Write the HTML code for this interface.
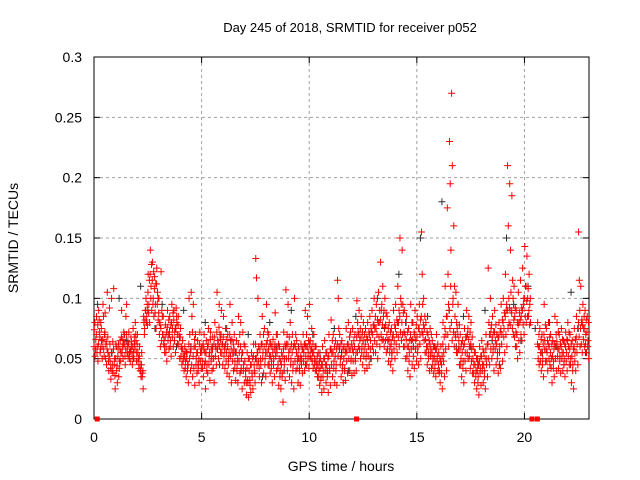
<!DOCTYPE html>
<html><head><meta charset="utf-8"><style>
html,body{margin:0;padding:0;background:#fff}
svg{display:block;font-family:"Liberation Sans",sans-serif}
</style></head><body>
<svg id="chart" width="640" height="480" viewBox="0 0 640 480">
<rect width="640" height="480" fill="#fff"/>
<text x="350" y="32" text-anchor="middle" font-size="13" fill="#000">Day 245 of 2018, SRMTID for receiver p052</text>
<text transform="translate(18,238) rotate(-90)" text-anchor="middle" font-size="14" fill="#000">SRMTID / TECUs</text>
<text x="341" y="471" text-anchor="middle" font-size="14" fill="#000">GPS time / hours</text>
<g id="grid"></g>
<g id="axes"></g>
<g id="black"></g>
<g id="red"></g>
</svg>
<script>
const xTicks = [0,5,10,15,20];
const yTicks = [0,0.05,0.1,0.15,0.2,0.25,0.3];
const yTickLabels = ["0","0.05","0.1","0.15","0.2","0.25","0.3"];
const binWidthHours = 0.1;
// red series: milli-TECU values per 0.1 h bin
const redBins = [
[74,52,66],[85,60,48],[90,72,55],[80,65,50],[95,58,70],[88,62,45],[105,55,40],[92,48,33],[100,45,38],[108,50,25],
[62,40,30],[58,35,48],[65,55,90],[60,50,72],[70,45,85],[95,60,52],[72,55,48],[68,60,45],[75,50,62],[80,65,55],
[70,48,42],[60,40,35],[55,38,25],[80,75,90],[100,85,78],[120,95,80],[140,110,90],[130,100,85],[118,95,75],[125,105,82],
[100,80,60],[122,90,70],[85,65,55],[78,60,48],[90,70,58],[85,65,52],[95,75,60],[90,72,55],[92,80,62],[85,70,50],
[75,60,45],[65,50,40],[60,48,35],[55,45,30],[100,70,40],[105,85,35],[95,60,28],[70,50,38],[65,45,30],[72,55,42],
[60,48,35],[70,55,25],[65,45,38],[75,52,32],[72,58,40],[68,50,30],[80,60,45],[105,65,50],[95,70,55],[90,62,45],
[85,60,42],[75,55,38],[70,50,35],[95,65,30],[80,55,40],[70,48,32],[65,45,30],[85,55,38],[80,50,25],[72,45,30],
[60,35,20],[55,30,18],[50,28,22],[55,35,25],[62,40,30],[133,117,55],[100,60,35],[70,45,30],[85,55,38],[75,50,35],
[95,65,45],[70,52,38],[62,48,30],[66,50,35],[88,58,40],[70,45,28],[60,40,25],[55,38,14],[72,50,32],[107,62,40],
[95,55,35],[80,50,30],[70,45,25],[100,60,40],[65,48,30],[58,42,28],[62,50,38],[70,55,40],[90,60,45],[85,55,42],
[95,65,50],[75,55,42],[70,50,40],[60,45,35],[55,40,28],[50,35,22],[60,40,25],[65,45,30],[55,38,22],[70,42,28],
[82,55,35],[70,48,30],[65,45,28],[115,100,60],[70,50,35],[65,45,30],[60,42,32],[75,55,38],[80,58,40],[72,50,36],
[75,55,38],[70,50,40],[98,80,60],[90,65,50],[85,60,45],[80,58,40],[75,55,42],[80,60,45],[85,65,50],[90,70,55],
[100,75,55],[95,70,50],[105,80,60],[130,90,65],[110,85,60],[100,78,55],[85,65,48],[80,60,45],[75,55,40],[90,65,50],
[95,70,55],[110,80,60],[150,100,65],[140,95,60],[90,70,50],[85,60,40],[75,55,35],[95,65,45],[80,60,42],[90,65,48],
[85,60,45],[95,70,50],[155,120,70],[100,75,55],[80,60,45],[70,55,40],[75,58,42],[65,50,38],[60,48,35],[70,52,40],
[55,40,30],[60,45,25],[80,55,35],[110,70,40],[175,120,60],[230,195,140],[270,210,100],[160,110,70],[105,80,55],[95,65,45],
[70,50,35],[65,48,30],[75,55,40],[90,70,50],[85,60,42],[80,58,38],[60,45,30],[55,40,25],[50,35,20],[60,42,28],
[65,45,30],[55,40,25],[70,50,35],[125,80,45],[100,75,50],[85,60,40],[90,65,45],[70,55,38],[80,60,42],[95,70,48],
[100,75,55],[120,90,60],[210,160,80],[195,140,90],[185,115,70],[110,85,60],[90,70,50],[105,80,55],[115,85,65],[125,95,70],
[143,110,80],[135,100,85],[120,95,80],[],[],[],[80,60,45],[75,55,40],[70,50,35],[95,65,48],
[75,55,40],[80,60,45],[70,50,30],[65,48,35],[85,60,40],[80,58,42],[70,52,38],[75,55,40],[65,50,35],[72,55,40],
[80,60,45],[70,50,30],[65,45,25],[75,55,40],[85,62,45],[155,115,60],[110,80,55],[95,75,60],[90,70,55],[85,65,50]
];
// additional red readings per 0.1 h bin (mid-band)
const redBinsExtra = [
[60,80,58],[70,55,78],[62,82,68],[58,75,60],[66,85,52],[72,50,64],[58,68,48],[52,62,42],[55,40,64],[58,45,36],
[50,60,44],[52,62,42],[58,48,68],[55,66,62],[62,52,58],[70,55,64],[62,50,58],[56,64,52],[60,55,68],[58,70,48],
[62,55,50],[52,45,40],[45,35,40],[85,70,82],[90,80,95],[105,88,115],[120,100,128],[115,95,122],[108,88,112],[112,95,100],
[88,70,78],[75,65,85],[70,62,60],[68,55,72],[76,65,82],[72,60,78],[80,68,88],[82,65,75],[75,85,70],[78,62,68],
[68,52,58],[58,48,54],[52,42,56],[50,40,45],[62,50,55],[58,45,72],[52,42,66],[60,45,55],[55,40,50],[62,48,58],
[55,42,62],[58,45,48],[55,40,60],[62,45,55],[66,48,52],[58,42,62],[68,52,58],[72,58,62],[76,60,66],[70,55,62],
[68,52,58],[62,48,66],[60,45,55],[70,52,58],[66,48,62],[58,42,55],[55,40,50],[62,48,70],[60,42,55],[55,40,62],
[48,40,30],[42,32,50],[40,32,45],[45,38,50],[52,45,38],[62,50,45],[55,48,42],[58,50,62],[62,50,70],[60,45,55],
[62,55,72],[58,45,62],[52,42,60],[55,45,58],[62,52,70],[55,42,62],[50,35,48],[45,35,52],[58,45,62],[60,50,70],
[62,50,68],[58,45,62],[55,40,60],[62,48,70],[55,42,52],[50,40,48],[52,45,58],[58,48,62],[62,52,70],[60,50,65],
[62,52,58],[58,48,62],[55,45,60],[48,40,52],[45,35,48],[42,32,45],[45,35,50],[50,40,55],[45,35,50],[52,40,58],
[58,45,65],[55,42,60],[52,40,58],[62,52,75],[58,45,62],[52,40,58],[50,40,55],[58,48,62],[62,50,68],[58,48,62],
[58,48,65],[60,48,55],[68,55,72],[70,58,75],[68,55,72],[65,52,70],[62,50,68],[66,52,72],[70,58,75],[72,60,78],
[78,65,85],[75,62,82],[80,68,90],[82,70,95],[78,66,90],[76,65,88],[70,58,75],[66,55,72],[62,50,68],[70,58,78],
[75,62,82],[80,68,90],[85,72,95],[80,70,88],[72,60,80],[66,52,72],[60,48,65],[70,58,80],[66,52,72],[70,58,78],
[68,55,75],[75,62,82],[85,72,95],[78,65,85],[66,55,72],[60,50,65],[62,52,70],[55,45,60],[52,42,58],[58,48,62],
[45,38,50],[48,38,52],[62,48,68],[75,58,85],[85,70,95],[90,75,110],[80,65,95],[72,60,85],[68,55,75],[70,58,78],
[58,45,62],[55,42,60],[62,48,68],[68,55,75],[66,52,72],[62,48,68],[50,38,55],[45,35,50],[40,30,45],[48,38,52],
[52,40,58],[45,35,50],[58,45,62],[62,50,70],[70,58,78],[68,55,72],[72,58,78],[62,50,68],[68,55,72],[75,62,82],
[80,68,88],[85,70,95],[90,75,100],[92,78,105],[88,75,100],[82,68,92],[72,60,80],[78,65,88],[82,70,92],[90,78,100],
[100,85,110],[98,85,108],[90,78,100],[],[],[],[62,50,70],[60,48,66],[55,45,62],[70,58,78],
[58,48,65],[62,50,68],[55,42,62],[52,42,58],[62,50,70],[64,52,72],[58,48,62],[60,50,66],[55,45,62],[60,48,66],
[65,52,72],[58,45,62],[52,40,58],[60,48,66],[68,55,75],[80,68,90],[75,62,82],[78,66,85],[75,62,82],[72,60,80]
];
// black series: milli-TECU values per hour
const blackBins = [
[95,70,55],[100,65,50],[110,90,75],[95,70,60],[90,60,45],[80,60,45],[75,55,40],[70,50,35],[80,60,40],[90,60,45],
[70,55,40],[75,55,40],[85,65,50],[100,75,55],[120,80,60],[150,85,60],[180,90,60],[85,60,45],[90,65,45],[150,95,65],
[110,75,55],[80,60,45],[105,75,55]
];
const zeroMarkHours = [0.15,12.2,20.35,20.6];

const NS="http://www.w3.org/2000/svg";
const X0=94,X1=589,Y0=419,Y1=57,XMAX=23,YMAX=0.3;
const xs=h=>X0+(X1-X0)*h/XMAX;
const ys=v=>Y0-(Y0-Y1)*v/YMAX;
function el(tag,attrs,parent){const e=document.createElementNS(NS,tag);for(const k in attrs)e.setAttribute(k,attrs[k]);parent.appendChild(e);return e;}
const grid=document.getElementById('grid'),axes=document.getElementById('axes');
xTicks.forEach((t,i)=>{
  if(t>0){const g=el('line',{x1:xs(t),x2:xs(t),y1:Y1,y2:Y0,stroke:'#a0a0a0','stroke-dasharray':'3,3'},grid);
  
  }
  el('line',{x1:xs(t),x2:xs(t),y1:Y0,y2:Y0-6,stroke:'#000'},axes);
  el('line',{x1:xs(t),x2:xs(t),y1:Y1,y2:Y1+6,stroke:'#000'},axes);
  const tx=el('text',{x:xs(t),y:Y0+23,'text-anchor':'middle','font-size':14},axes);
  tx.textContent=String(t);
  
  
});
yTicks.forEach((t,i)=>{
  if(t>0&&t<YMAX){const g=el('line',{x1:X0,x2:X1,y1:ys(t),y2:ys(t),stroke:'#a0a0a0','stroke-dasharray':'3,3'},grid);
  
  }
  el('line',{x1:X0,x2:X0+6,y1:ys(t),y2:ys(t),stroke:'#000'},axes);
  el('line',{x1:X1,x2:X1-6,y1:ys(t),y2:ys(t),stroke:'#000'},axes);
  const tx=el('text',{x:X0-12,y:ys(t)+5,'text-anchor':'end','font-size':14},axes);
  tx.textContent=yTickLabels[i];
  
  
});
const frame=el('rect',{x:X0,y:Y1,width:X1-X0,height:Y0-Y1,fill:'none',stroke:'#000'},axes);


function plus(parent,h,v,color){
  const x=xs(h),y=ys(v);
  const p=el('path',{d:`M${x-3.5},${y}h7M${x},${y-3.5}v7`,stroke:color,'stroke-width':1,fill:'none'},parent);
  
  
}
const black=document.getElementById('black'),red=document.getElementById('red');
blackBins.forEach((vals,i)=>{vals.forEach((v,j)=>plus(black,i+(j+0.5)/vals.length,v/1000,'#303030'));});
redBins.forEach((vals,i)=>{vals.forEach((v,j)=>plus(red,(i+(j+0.5)/vals.length)*binWidthHours,v/1000,'#ff0000'));});
redBinsExtra.forEach((vals,i)=>{vals.forEach((v,j)=>plus(red,(i+(j+0.2)/vals.length)*binWidthHours,v/1000,'#ff0000'));});
zeroMarkHours.forEach(h=>{
  const r=el('rect',{x:xs(h)-2.5,y:Y0-2.5,width:5,height:5,fill:'#ff0000'},red);
  
  
});
</script>
</body></html>
